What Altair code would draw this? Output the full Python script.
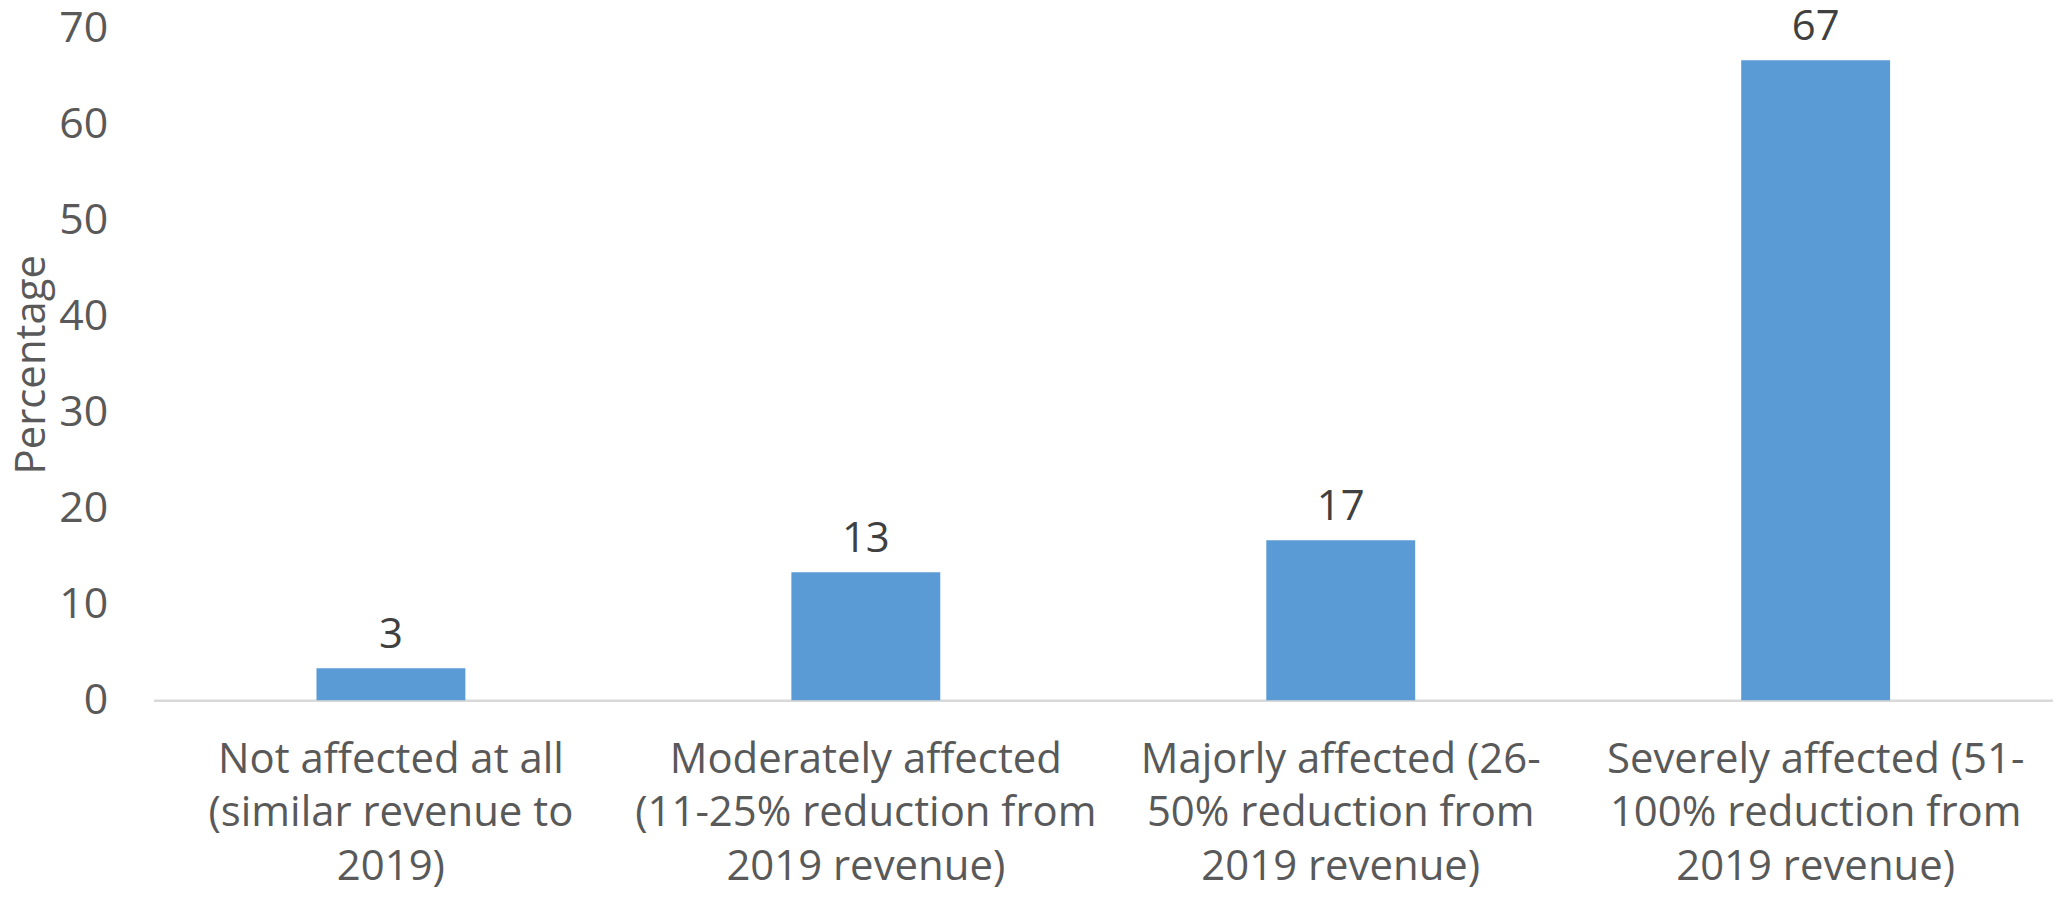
import altair as alt
import pandas as pd

categories = [
    "Not affected at all|(similar revenue to|2019)",
    "Moderately affected|(11-25% reduction from|2019 revenue)",
    "Majorly affected (26-|50% reduction from|2019 revenue)",
    "Severely affected (51-|100% reduction from|2019 revenue)",
]
values = [3.33, 13.33, 16.67, 66.67]
y_ticks = [0, 10, 20, 30, 40, 50, 60, 70]

df = pd.DataFrame({"category": categories, "value": values})

FONT = "Open Sans, sans-serif"

base = alt.Chart(df).encode(
    x=alt.X(
        "category:N",
        sort=categories,
        scale=alt.Scale(paddingInner=0.6865, paddingOuter=0.343),
        axis=alt.Axis(
            title=None,
            labelAngle=0,
            labelExpr="split(datum.label, '|')",
            labelFont=FONT,
            labelFontSize=42,
            labelColor="#595959",
            labelLineHeight=54,
            labelBaseline="top",
            labelPadding=39,
            labelLimit=0,
            ticks=False,
            domainColor="#D9D9D9",
            domainWidth=2.5,
            grid=False,
        ),
    ),
    y=alt.Y(
        "value:Q",
        scale=alt.Scale(domain=[0, 70], nice=False),
        axis=alt.Axis(
            title="Percentage",
            values=y_ticks,
            labelFont=FONT,
            labelFontSize=43,
            labelColor="#595959",
            labelPadding=46,
            ticks=False,
            domain=False,
            grid=False,
            titleFont=FONT,
            titleFontSize=42,
            titleFontWeight="normal",
            titleColor="#595959",
            titleAngle=270,
            titleAlign="center",
            titleBaseline="middle",
            titleX=-122,
            titleY=337,
        ),
    ),
)

bars = base.mark_bar(color="#5B9BD5")
labels = base.mark_text(
    baseline="alphabetic", dy=-20, font=FONT, fontSize=42, color="#404040"
).encode(text=alt.Text("value:Q", format=".0f"))

chart = (
    alt.layer(bars, labels)
    .properties(
        width=1905,
        height=674,
        autosize=alt.AutoSizeParams(type="none"),
        padding={"left": 146, "top": 19, "right": 0, "bottom": 193},
        view=alt.ViewBackground(strokeWidth=0, stroke="transparent"),
    )
    .configure_view(strokeWidth=0, stroke="transparent")
    .configure_axis(grid=False)
    .configure(background="white")
)

chart.save("out.html", embed_options={"renderer": "svg", "actions": False})
